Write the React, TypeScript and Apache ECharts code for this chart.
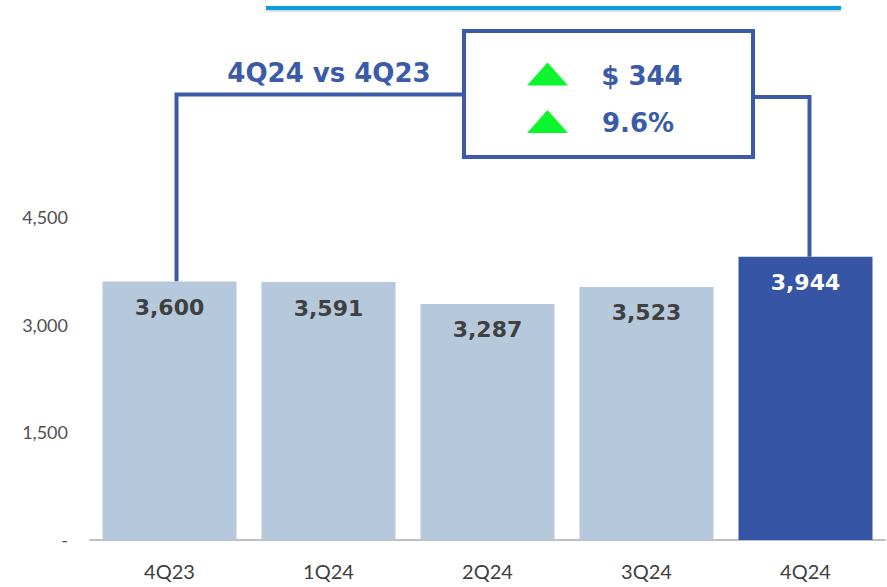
import React, { useEffect, useRef } from "react";
import * as echarts from "echarts";

const categories = ["4Q23", "1Q24", "2Q24", "3Q24", "4Q24"];
const revenue = [3600, 3591, 3287, 3523, 3944];
const yTicks = [0, 1500, 3000, 4500];
const compareTitle = "4Q24 vs 4Q23";
const changeAmount = "$ 344";
const changePct = "9.6%";

const LIGHT = "#B6C8DB";
const DARK = "#3656A5";
const LINE = "#3B5BA8";
const BOLD = "'DejaVu Sans', sans-serif";

export default function App() {
  const ref = useRef<HTMLDivElement>(null);
  useEffect(() => {
    if (!ref.current) return;
    const chart = echarts.init(ref.current, undefined, { renderer: "svg" });
    const last = revenue.length - 1;
    chart.setOption({
      animation: false,
      backgroundColor: "#ffffff",
      grid: { left: 90, right: 2, top: 109, bottom: 47, containLabel: false },
      xAxis: {
        type: "category",
        data: categories,
        axisLine: { show: true, lineStyle: { color: "#BFBFBF", width: 2 } },
        axisTick: { show: false },
        axisLabel: {
          margin: 21,
          fontFamily: "Lato, sans-serif",
          fontSize: 20,
          color: "#404040",
        },
      },
      yAxis: {
        type: "value",
        min: 0,
        max: 6000,
        interval: 1500,
        axisLine: { show: false },
        axisTick: { show: false },
        splitLine: { show: false },
        axisLabel: {
          margin: 22,
          fontFamily: "Lato, sans-serif",
          fontSize: 18,
          color: "#505050",
          formatter: (v: number) =>
            yTicks.includes(v) ? (v === 0 ? "-" : v.toLocaleString("en-US")) : "",
        },
      },
      series: [
        {
          type: "bar",
          barWidth: 134,
          data: revenue.map((v, i) => ({
            value: v,
            itemStyle: { color: i === last ? DARK : LIGHT },
            label: { color: i === last ? "#ffffff" : "#404040" },
          })),
          label: {
            show: true,
            position: "insideTop",
            distance: 15,
            fontFamily: BOLD,
            fontWeight: "bold",
            fontSize: 22,
            formatter: (p: any) => Number(p.value).toLocaleString("en-US"),
          },
        },
      ],
    });

    const p0 = chart.convertToPixel({ seriesIndex: 0 }, [0, revenue[0]]) as number[];
    const p4 = chart.convertToPixel({ seriesIndex: 0 }, [last, revenue[last]]) as number[];
    const lx = p0[0] + 7;
    const rx = p4[0] + 4;
    const boxL = 464, boxR = 753, boxT = 31, boxB = 157;
    const lineStyle = { stroke: LINE, lineWidth: 4, fill: null };
    const tri = (cy: number) => ({
      type: "polygon",
      shape: { points: [[527, cy + 11.5], [568, cy + 11.5], [547.5, cy - 11.5]] },
      style: { fill: "#0DF52F" },
    });
    const txt = (text: string, x: number, y: number) => ({
      type: "text",
      x,
      y,
      style: {
        text,
        fill: LINE,
        font: `bold 26px ${BOLD}`,
        align: "center",
        verticalAlign: "middle",
        textAlign: "center",
        textVerticalAlign: "middle",
      },
    });
    chart.setOption({
      graphic: [
        {
          type: "rect",
          shape: { x: 266, y: 6, width: 575, height: 4 },
          style: { fill: "#0A9FDB", shadowBlur: 3, shadowColor: "rgba(0,0,0,0.25)", shadowOffsetY: 1 },
        },
        {
          type: "polyline",
          shape: { points: [[lx, p0[1]], [lx, 94.5], [boxL, 94.5]] },
          style: lineStyle,
        },
        {
          type: "polyline",
          shape: { points: [[boxR, 97], [rx, 97], [rx, p4[1]]] },
          style: lineStyle,
        },
        {
          type: "rect",
          shape: { x: boxL, y: boxT, width: boxR - boxL, height: boxB - boxT },
          style: { stroke: LINE, lineWidth: 4, fill: "#ffffff" },
        },
        txt(compareTitle, 329, 72.5),
        tri(74),
        tri(121.5),
        txt(changeAmount, 642, 76),
        txt(changePct, 638, 123),
      ],
    });
    return () => chart.dispose();
  }, []);
  return (
    <div
      ref={ref}
      style={{ position: "fixed", left: 0, top: 0, width: 887, height: 587 }}
    />
  );
}
